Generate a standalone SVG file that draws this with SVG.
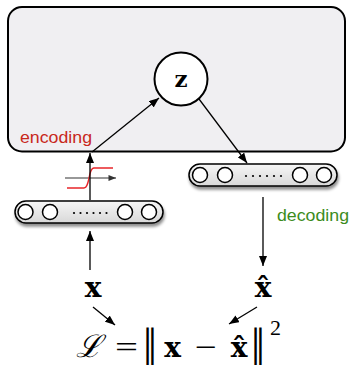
<svg xmlns="http://www.w3.org/2000/svg" width="349" height="367" viewBox="0 0 349 367">
<defs>
<style>
.ln{stroke:#000;stroke-width:1.3;fill:none}
.bar{fill:url(#barg);stroke:#000;stroke-width:1.5;filter:url(#sh)}
.unit{fill:#fff;stroke:#000;stroke-width:1.5}
.dot{fill:#000}
.lbl{font-family:"Liberation Sans",Arial,sans-serif;font-size:16.5px}
.m{font-family:"Liberation Serif","DejaVu Serif",serif;fill:#000}
.nb{font-family:"DejaVu Serif","Liberation Serif",serif;fill:#000}
.mb{font-family:"DejaVu Serif","Liberation Serif",serif;font-weight:bold;fill:#000}
</style>
<linearGradient id="barg" x1="0" y1="0" x2="0" y2="1">
<stop offset="0" stop-color="#f6f6f6"/>
<stop offset="1" stop-color="#d8d8d8"/>
</linearGradient>
<filter id="sh" x="-10%" y="-30%" width="120%" height="180%">
<feDropShadow dx="1" dy="3" stdDeviation="1.5" flood-color="#000" flood-opacity="0.45"/>
</filter>
<marker id="ah" viewBox="0 0 10 8" refX="10" refY="4" markerWidth="10" markerHeight="8" markerUnits="userSpaceOnUse" orient="auto">
<path d="M0,0 L10,4 L0,8 Z" fill="#000"/>
</marker>
<marker id="ahg" viewBox="0 0 10 8" refX="10" refY="4" markerWidth="8" markerHeight="6" markerUnits="userSpaceOnUse" orient="auto">
<path d="M0,0 L10,4 L0,8 Z" fill="#333"/>
</marker>
</defs>

<g id="latent-box">
<rect x="8" y="7" width="337" height="144.5" rx="14" ry="14" fill="#f0eff2" stroke="#000" stroke-width="2"/>
<text class="lbl" x="20" y="143" fill="#c8281c" textLength="72" lengthAdjust="spacingAndGlyphs">encoding</text>
</g>

<g id="z-node">
<circle cx="181" cy="79" r="26.5" fill="#fff" stroke="#000" stroke-width="2"/>
<text class="mb" x="181" y="87" font-size="23" text-anchor="middle">z</text>
</g>

<g id="sigmoid">
<line x1="65" y1="178" x2="116" y2="178" stroke="#333" stroke-width="1.2" marker-end="url(#ahg)"/>
<path d="M67,188 L84,188 C90,188 88,168 94,168 L113,168" fill="none" stroke="#e8262a" stroke-width="1.3"/>
</g>

<g id="input-layer">
<rect class="bar" x="15" y="201" width="148" height="22" rx="11" ry="11"/>
<circle class="unit" cx="25.5" cy="212" r="7.5"/>
<circle class="unit" cx="50" cy="212" r="7.5"/>
<circle class="unit" cx="125" cy="212" r="7.5"/>
<circle class="unit" cx="149" cy="212" r="7.5"/>
<g class="dot">
<circle cx="74" cy="213" r="1.1"/><circle cx="80.5" cy="213" r="1.1"/><circle cx="87" cy="213" r="1.1"/>
<circle cx="93.5" cy="213" r="1.1"/><circle cx="100" cy="213" r="1.1"/><circle cx="106.5" cy="213" r="1.1"/>
</g>
</g>

<g id="output-layer">
<rect class="bar" x="189" y="164" width="148" height="22" rx="11" ry="11"/>
<circle class="unit" cx="200" cy="175" r="7.5"/>
<circle class="unit" cx="225" cy="175" r="7.5"/>
<circle class="unit" cx="300" cy="175" r="7.5"/>
<circle class="unit" cx="324" cy="175" r="7.5"/>
<g class="dot">
<circle cx="246" cy="176" r="1.1"/><circle cx="253" cy="176" r="1.1"/><circle cx="260" cy="176" r="1.1"/>
<circle cx="267" cy="176" r="1.1"/><circle cx="274" cy="176" r="1.1"/><circle cx="281" cy="176" r="1.1"/>
</g>
<text class="lbl" x="277" y="221" fill="#3c8c1c" textLength="72" lengthAdjust="spacingAndGlyphs">decoding</text>
</g>

<g id="x-node">
<text class="mb" x="93" y="297" font-size="28" text-anchor="middle">x</text>
</g>

<g id="xhat-node">
<text class="mb" x="263" y="297" font-size="28" text-anchor="middle">x̂</text>
</g>

<g id="loss-node">
<text class="m" x="89" y="357" font-size="31" font-style="italic" text-anchor="middle">ℒ</text>
<text class="m" x="115" y="357" font-size="30" textLength="23" lengthAdjust="spacingAndGlyphs">=</text>
<text class="nb" transform="translate(150,356) scale(1,1.25)" font-size="30" text-anchor="middle">‖</text>
<text class="mb" x="172.5" y="357" font-size="28" text-anchor="middle">x</text>
<text class="m" x="195" y="357" font-size="30" textLength="22" lengthAdjust="spacingAndGlyphs">−</text>
<text class="mb" x="239" y="357" font-size="28" text-anchor="middle">x̂</text>
<text class="nb" transform="translate(258,356) scale(1,1.25)" font-size="30" text-anchor="middle">‖</text>
<text class="m" x="275.5" y="335" font-size="22" text-anchor="middle">2</text>
</g>

<g id="connectors">
<line class="ln" x1="90" y1="200" x2="90" y2="153" marker-end="url(#ah)"/>
<line class="ln" x1="92" y1="152" x2="159" y2="98" marker-end="url(#ah)"/>
<line class="ln" x1="199" y1="99" x2="247" y2="163" marker-end="url(#ah)"/>
<line class="ln" x1="263" y1="197" x2="263" y2="266" marker-end="url(#ah)"/>
<line class="ln" x1="90" y1="270" x2="90" y2="231" marker-end="url(#ah)"/>
<line class="ln" x1="93" y1="307" x2="115" y2="325" marker-end="url(#ah)"/>
<line class="ln" x1="257" y1="307" x2="229" y2="324" marker-end="url(#ah)"/>
</g>
</svg>
